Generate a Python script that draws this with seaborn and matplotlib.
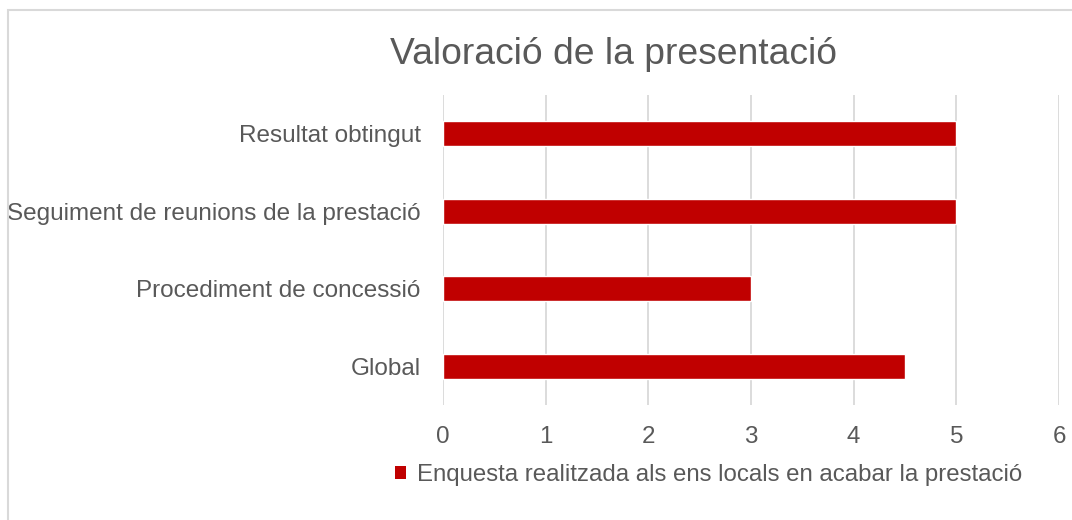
import pandas as pd
import matplotlib
matplotlib.use("Agg")
import matplotlib.pyplot as plt
from matplotlib.patches import Rectangle, Patch
import seaborn as sns

# -----------------------------
# Data
# -----------------------------
categories = ["Resultat obtingut",
              "Seguiment de reunions de la prestació",
              "Procediment de concessió",
              "Global"]
values = [5, 5, 3, 4.5]
series_name = "Enquesta realitzada als ens locals en acabar la prestació"
title = "Valoració de la presentació"

df = pd.DataFrame({"categoria": categories, "valor": values})

# -----------------------------
# Style
# -----------------------------
sns.set_theme(style="white")
plt.rcParams['font.family'] = ['Liberation Sans', 'DejaVu Sans']
text_col = "#595959"
grid_col = "#d9d9d9"
bar_col = "#c00000"

fig = plt.figure(figsize=(10.72, 5.2), dpi=100)
ax = fig.add_axes([443 / 1072, 1 - 405 / 520, (1059 - 443) / 1072, 310 / 520])

sns.barplot(data=df, x="valor", y="categoria", order=categories,
            color=bar_col, width=0.32, saturation=1, ax=ax, orient="h")

ax.set_xlim(0, 6)
ax.set_ylim(3.5, -0.5)
ax.set_xticks(range(0, 7))
ax.xaxis.grid(True, color=grid_col, linewidth=1.3)
ax.set_axisbelow(True)
for s in ax.spines.values():
    s.set_visible(False)
ax.set_xlabel("")
ax.set_ylabel("")
ax.tick_params(axis="x", colors=text_col, labelsize=17.4, length=0, pad=15)
ax.tick_params(axis="y", colors=text_col, labelsize=17.5, length=0, pad=16)

fig.text(0.5725, 1 - 55 / 520, title, ha="center", va="center",
         fontsize=26.8, color=text_col)

# legend
handle = Patch(facecolor=bar_col, edgecolor="none", label=series_name)
fig.legend(handles=[handle], loc="center", bbox_to_anchor=(708.5 / 1072, 1 - 475 / 520),
           frameon=False, fontsize=17.3, labelcolor=text_col,
           handlelength=0.48, handleheight=0.48, handletextpad=0.45)

# chart border
fig.patches.append(Rectangle((8 / 1072, -0.1), 1.2, 1 - 10 / 520 + 0.1,
                             transform=fig.transFigure, fill=False,
                             edgecolor=grid_col, linewidth=1.5))

fig.savefig("out.png", dpi=100)
